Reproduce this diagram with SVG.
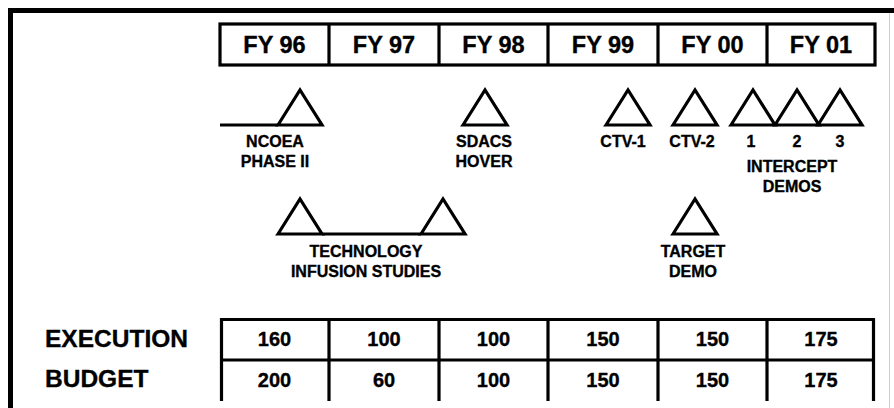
<svg xmlns="http://www.w3.org/2000/svg" width="894" height="408" viewBox="0 0 894 408">
<style>
text{font-family:"Liberation Sans",Arial,sans-serif;font-weight:bold;fill:#000;stroke:#000;stroke-width:0.35;text-anchor:middle}
.hd{font-size:23.5px}
.num{font-size:20px}
.row{font-size:24.5px;text-anchor:start}
.lbl{font-size:16px}
.ln{fill:none;stroke:#000;stroke-width:3.2}
.tri{fill:none;stroke:#000;stroke-width:3.2;stroke-linejoin:miter}
</style>
<rect width="894" height="408" fill="#fff"/>
<g id="frame">
<path d="M10.5 408 V10.5 H894" fill="none" stroke="#000" stroke-width="5"/>
<line x1="889.5" y1="13" x2="889.5" y2="408" stroke="#d0d0d0" stroke-width="1"/>
</g>
<g id="header">
<rect x="220" y="24" width="655" height="41" class="ln"/>
<path d="M329 24V65M439 24V65M548 24V65M658 24V65M767 24V65" class="ln"/>
<text class="hd" x="274.5" y="53">FY 96</text>
<text class="hd" x="384" y="53">FY 97</text>
<text class="hd" x="493.5" y="53">FY 98</text>
<text class="hd" x="603" y="53">FY 99</text>
<text class="hd" x="712.5" y="53">FY 00</text>
<text class="hd" x="821" y="53">FY 01</text>
</g>
<g id="connectors">
<line x1="220" y1="125" x2="278" y2="125" class="ln"/>
<line x1="322" y1="234" x2="421" y2="234" class="ln"/>
</g>
<g id="ncoea">
<path d="M278 125 L300 90 L322 125 Z" class="tri"/>
<text class="lbl" x="275" y="147">NCOEA</text>
<text class="lbl" x="275" y="167">PHASE II</text>
</g>
<g id="sdacs">
<path d="M463 125 L485 90 L507 125 Z" class="tri"/>
<text class="lbl" x="484" y="147">SDACS</text>
<text class="lbl" x="484" y="167">HOVER</text>
</g>
<g id="ctv1">
<path d="M606 125 L628 90 L650 125 Z" class="tri"/>
<text class="lbl" x="623" y="147">CTV-1</text>
</g>
<g id="ctv2">
<path d="M673 125 L695 90 L717 125 Z" class="tri"/>
<text class="lbl" x="692" y="147">CTV-2</text>
</g>
<g id="intercept">
<path d="M731 125 L753 90 L775 125 Z" class="tri"/>
<path d="M775 125 L797 90 L819 125 Z" class="tri"/>
<path d="M818 125 L840 90 L862 125 Z" class="tri"/>
<text class="lbl" x="751" y="147">1</text>
<text class="lbl" x="797" y="147">2</text>
<text class="lbl" x="840" y="147">3</text>
<text class="lbl" x="792" y="172">INTERCEPT</text>
<text class="lbl" x="792" y="192">DEMOS</text>
</g>
<g id="tech">
<path d="M278 234 L300 199 L322 234 Z" class="tri"/>
<path d="M421 234 L443 199 L465 234 Z" class="tri"/>
<text class="lbl" x="366" y="257">TECHNOLOGY</text>
<text class="lbl" x="366" y="277">INFUSION STUDIES</text>
</g>
<g id="target">
<path d="M673 234 L695 199 L717 234 Z" class="tri"/>
<text class="lbl" x="693" y="257">TARGET</text>
<text class="lbl" x="693" y="277">DEMO</text>
</g>
<g id="table">
<path d="M220 319.5H875M220 360H875" class="ln" stroke-width="3.5"/>
<path d="M221.5 318V401M329 318V401M439 318V401M548 318V401M658 318V401M767 318V401M873.5 318V401" class="ln"/>
<text class="row" x="45" y="347">EXECUTION</text>
<text class="row" x="45" y="387">BUDGET</text>
<text class="num" x="274.5" y="346">160</text>
<text class="num" x="384" y="346">100</text>
<text class="num" x="493.5" y="346">100</text>
<text class="num" x="603" y="346">150</text>
<text class="num" x="712.5" y="346">150</text>
<text class="num" x="821" y="346">175</text>
<text class="num" x="274.5" y="387">200</text>
<text class="num" x="384" y="387">60</text>
<text class="num" x="493.5" y="387">100</text>
<text class="num" x="603" y="387">150</text>
<text class="num" x="712.5" y="387">150</text>
<text class="num" x="821" y="387">175</text>
</g>
</svg>
